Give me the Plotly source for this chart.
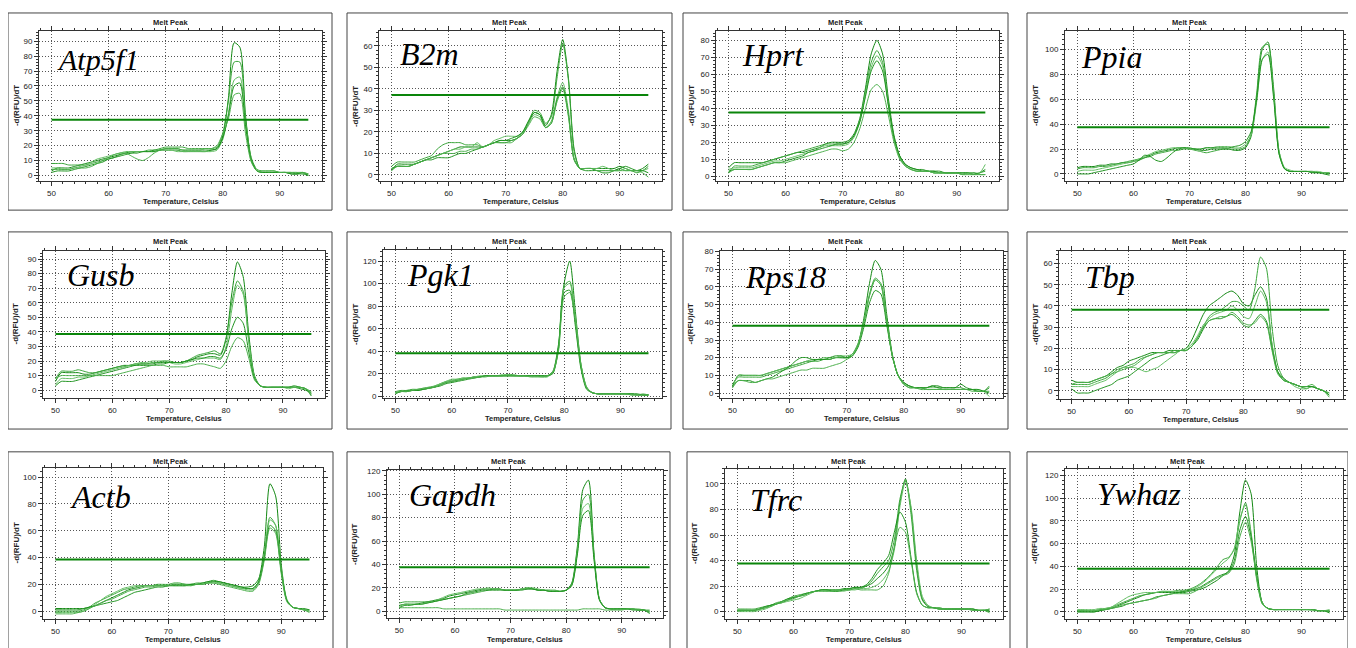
import plotly.graph_objects as go

# ---------------- data ----------------
TEMPS = list(range(50, 96))
GENES = ["Atp5f1", "B2m", "Hprt", "Ppia", "Gusb", "Pgk1", "Rps18", "Tbp",
         "Actb", "Gapdh", "Tfrc", "Ywhaz"]
THRESHOLDS = [37.4, 37.2, 37.5, 37.6, 38.5, 38.1, 38.1, 38.2, 38.5, 37.5, 37.7, 38.0]
X_TICKS = [50, 60, 70, 80, 90]

ATP5F1 = [
    [3,5,5,5,6,7,8,9,10,11, 12,13,14,15,16,16,16,16,17,17, 17,17,17,16,16,16,16,16,17,18, 26,52,89,86,40,11,3,2,2,2, 2,2,1,1,1,0],
    [8,8,8,7,7,7,7,8,9,10, 11,12,14,15,15,16,16,17,17,18, 19,19,19,19,18,18,18,18,18,19, 28,50,76,76,38,12,4,3,3,3, 2,2,2,1,2,1],
    [5,5,4,4,5,6,7,9,11,12, 13,14,15,16,16,16,16,16,16,17, 17,17,16,16,16,16,16,16,16,17, 24,42,64,66,34,10,3,2,2,2, 2,2,2,2,1,1],
    [2,3,3,3,4,5,6,7,8,9, 11,12,13,14,15,15,16,16,16,17, 18,18,18,17,17,17,17,17,17,18, 25,40,60,62,33,10,3,2,2,2, 2,2,1,1,2,0],
    [4,4,4,4,5,5,5,6,8,10, 12,14,15,15,13,11,10,12,15,17, 18,18,18,17,17,17,17,18,18,20, 28,38,54,55,28,9,3,3,3,3, 2,2,2,2,2,1],
]
B2M = [
    [2,5,5,5,5,6,7,8,9,10, 11,12,13,13,13,13,13,14,15,16, 16,16,17,19,24,29,28,23,28,48, 63,45,12,3,3,3,3,3,3,3, 4,3,2,2,3,5],
    [4,6,6,6,6,7,8,9,12,14, 15,15,15,14,14,14,13,14,15,15, 15,16,17,20,25,30,29,24,27,45, 61,44,11,3,3,3,2,2,2,2, 3,2,2,1,2,4],
    [3,4,4,4,5,6,7,8,9,10, 11,12,12,13,13,15,13,14,16,17, 18,18,18,20,24,28,27,22,25,36, 43,30,8,3,3,3,3,4,3,2, 2,3,2,2,2,3],
    [3,4,4,4,5,6,7,7,8,8, 8,9,10,10,11,12,13,14,15,16, 16,17,18,20,25,29,28,22,24,35, 41,28,7,3,2,2,2,1,1,2, 3,4,3,2,2,1],
    [2,4,4,4,5,6,7,8,9,10, 10,10,11,11,12,12,13,14,15,15, 15,15,17,19,23,27,26,22,24,34, 40,27,7,3,3,3,2,2,2,2, 2,2,2,2,1,-1],
]
HPRT = [
    [5,8,8,8,8,8,8,9,10,11, 12,13,14,14,15,16,17,19,20,20, 20,21,25,34,52,72,80,72,46,24, 12,7,5,4,3,3,3,2,2,2, 2,2,2,1,2,4],
    [2,6,6,6,6,7,8,9,10,11, 12,13,14,15,16,17,18,19,19,19, 19,20,24,33,50,67,74,67,43,22, 11,6,4,3,3,3,2,2,2,2, 2,1,1,1,2,3],
    [4,5,5,5,5,6,7,8,9,9, 10,11,12,13,14,15,17,18,18,18, 18,19,23,32,48,64,71,65,42,22, 11,6,4,3,3,3,2,2,2,2, 2,2,1,2,2,7],
    [3,4,4,4,4,5,6,7,8,8, 9,10,11,12,14,15,16,17,18,19, 19,20,24,32,47,62,68,62,42,23, 12,7,5,4,4,3,3,3,2,2, 2,2,2,2,1,1],
    [2,4,4,4,4,5,6,7,8,8, 8,9,10,11,12,13,14,15,16,16, 15,16,20,28,40,51,54,50,36,20, 10,6,4,3,3,3,2,2,2,2, 2,1,2,1,1,1],
]
PPIA = [
    [5,6,6,6,7,7,8,8,9,9, 10,11,13,15,17,18,19,20,21,21, 20,20,19,19,20,20,20,20,19,19, 21,30,62,100,106,70,18,4,2,2, 2,2,2,1,1,0],
    [4,5,5,5,6,6,7,8,9,10, 11,12,13,14,16,17,18,19,19,20, 20,19,18,17,18,19,20,20,20,20, 22,32,65,102,104,65,16,4,2,2, 2,2,1,1,1,1],
    [2,3,3,3,4,5,6,7,8,9, 10,12,14,16,18,19,20,21,21,21, 20,20,20,21,21,22,22,22,21,21, 24,31,58,92,98,66,18,5,3,2, 2,2,2,2,1,1],
    [0,0,0,1,2,3,4,5,6,7, 8,11,15,14,11,10,13,17,20,21, 21,20,20,21,21,21,21,21,22,23, 26,34,60,92,96,62,16,4,2,2, 2,2,1,1,0,-1],
]
GUSB = [
    [6,12,12,12,12,11,11,12,13,14, 15,16,17,17,18,18,18,18,19,19, 19,19,19,20,21,23,24,25,25,24, 35,66,88,78,38,10,3,2,2,2, 2,2,2,1,0,-2],
    [8,13,13,13,14,13,12,12,13,14, 15,16,16,17,17,18,18,19,19,20, 20,19,19,20,22,24,25,26,27,25, 36,60,75,68,34,9,3,2,2,2, 2,2,2,2,1,-1],
    [4,8,8,8,9,9,10,11,12,13, 14,15,16,17,18,19,19,20,20,20, 19,18,18,19,20,21,22,22,22,21, 30,55,72,66,33,9,3,2,2,2, 2,1,2,2,1,-3],
    [3,6,6,6,7,8,9,10,11,12, 13,14,15,16,17,17,17,17,18,18, 19,19,19,20,21,22,22,23,23,22, 28,42,50,46,26,8,3,2,2,2, 2,2,3,2,1,-4],
    [8,10,10,10,10,10,10,10,10,10, 10,11,12,13,14,15,16,17,17,17, 16,16,16,16,17,18,18,17,16,15, 20,30,36,34,22,7,3,2,2,2, 2,2,2,2,1,-2],
]
PGK1 = [
    [3,4,5,5,5,6,7,8,10,12, 13,14,15,16,17,17,18,18,18,18, 18,18,18,18,18,18,18,18,22,46, 100,120,75,28,8,3,2,2,2,2, 2,2,2,1,1,1],
    [4,5,5,6,6,7,8,9,11,13, 14,15,16,16,17,17,18,18,18,18, 19,19,18,18,18,18,18,18,21,44, 98,102,66,26,7,3,2,2,2,2, 2,2,1,1,1,1],
    [3,4,4,5,6,6,7,9,11,13, 15,15,16,16,17,18,18,18,18,19, 19,18,18,18,18,18,17,17,21,42, 96,100,70,28,8,3,2,2,2,2, 2,2,2,1,2,1],
    [2,4,4,5,5,6,7,8,9,11, 12,13,14,15,16,17,18,18,18,18, 18,18,18,18,18,18,18,18,20,42, 92,94,62,24,6,3,2,2,2,2, 2,2,2,2,1,1],
    [3,4,4,5,6,7,7,8,10,12, 13,14,15,16,16,17,17,18,18,18, 18,18,18,18,17,17,17,18,21,40, 88,92,66,27,7,3,2,2,2,2, 2,2,1,1,1,1],
]
RPS18 = [
    [4,10,10,10,10,10,11,12,13,14, 15,16,17,18,18,19,19,19,20,20, 20,22,28,42,62,75,70,45,22,10, 6,4,3,3,3,4,4,3,3,3, 5,3,2,1,1,3],
    [5,9,9,9,9,9,10,11,12,13, 14,15,16,17,18,18,19,19,20,20, 20,21,27,40,56,65,62,42,21,10, 5,3,3,3,2,2,2,2,2,2, 2,2,2,1,1,1],
    [3,10,10,10,10,10,11,12,13,14, 15,16,17,18,19,19,20,20,20,21, 21,22,28,40,55,64,61,41,21,10, 5,4,3,3,3,3,3,2,2,2, 2,2,2,2,1,-2],
    [4,7,7,7,6,7,8,9,11,13, 15,18,20,20,19,19,19,20,21,21, 20,21,26,37,51,58,56,39,21,10, 6,4,3,3,3,4,3,3,3,3, 3,2,2,2,1,0],
    [3,7,7,6,6,7,8,8,9,10, 11,12,13,13,14,14,14,15,16,17, 19,21,27,40,55,64,61,41,21,10, 5,3,3,2,2,2,2,2,2,2, 2,2,1,1,1,4],
]
TBP = [
    [5,4,4,4,5,6,7,9,11,12, 14,15,16,17,18,18,18,19,19,19, 20,24,30,36,40,42,44,46,47,45, 41,40,45,49,44,22,9,6,4,3, 2,2,2,1,0,-1],
    [3,3,3,3,4,5,6,8,10,11, 12,13,15,16,17,18,18,18,19,19, 19,21,25,30,35,37,38,40,42,42, 40,38,48,63,58,30,12,6,4,3, 2,1,2,1,0,-2],
    [2,2,2,2,3,4,5,7,9,11, 11,11,10,9,10,11,13,15,17,19, 20,22,26,31,34,36,37,38,40,38, 35,34,40,47,42,22,9,5,4,2, 1,1,2,1,0,-1],
    [1,-1,-1,-1,0,1,2,3,5,6, 7,9,11,13,15,16,17,18,18,19, 19,21,24,29,33,34,34,35,36,34, 31,30,33,36,33,20,9,5,4,3, 2,2,2,1,0,-2],
    [3,4,4,4,5,6,7,8,9,10, 11,12,14,16,17,18,18,18,18,19, 19,21,25,30,33,34,35,35,37,35, 32,31,32,35,32,19,8,5,4,3, 2,2,3,1,0,-3],
]
ACTB = [
    [2,2,2,2,2,2,3,4,6,8, 10,12,14,16,17,18,19,19,19,19, 19,20,20,20,20,20,20,21,22,22, 21,20,19,18,18,19,24,48,95,86, 35,8,3,2,1,0],
    [0,0,0,0,0,1,3,6,8,10, 12,14,16,17,18,19,19,19,20,20, 20,21,21,20,20,21,21,22,22,21, 20,19,18,17,17,17,22,42,70,64, 30,8,3,2,1,1],
    [-1,-1,-1,-1,-1,0,2,5,8,11, 13,15,17,18,19,19,19,19,19,19, 19,19,19,19,19,20,20,21,21,21, 20,19,18,17,16,16,21,40,68,64, 32,9,3,2,1,0],
    [1,1,1,1,1,2,3,4,5,6, 7,8,10,12,14,15,16,17,18,18, 19,19,19,19,20,20,21,22,23,22, 21,20,19,18,17,17,22,40,64,60, 30,8,3,2,2,1],
    [-2,-2,-2,-2,-1,0,2,4,6,8, 9,11,13,15,16,17,18,18,19,19, 19,20,20,20,19,20,20,21,21,20, 19,18,17,16,15,15,20,38,62,58, 28,7,3,2,1,-1],
]
GAPDH = [
    [5,6,6,6,7,8,9,10,11,13, 14,15,16,17,18,19,19,19,19,18, 18,18,19,19,19,18,18,17,17,17, 18,24,55,104,112,50,10,3,2,2, 2,2,2,1,1,0],
    [7,8,8,8,8,8,8,9,10,11, 12,13,14,15,16,17,18,19,19,18, 18,18,19,20,19,18,18,18,18,17, 18,23,52,95,100,48,10,3,2,2, 2,2,2,1,1,-1],
    [4,6,6,6,6,7,8,10,12,14, 15,16,17,18,19,19,20,19,19,18, 18,18,19,20,20,19,18,18,17,17, 18,22,50,88,92,46,10,3,2,2, 2,2,2,2,1,0],
    [3,5,5,6,6,7,8,9,10,11, 12,13,15,16,17,18,18,18,18,18, 18,18,18,19,19,18,18,17,17,17, 18,22,48,82,86,44,9,3,2,2, 2,2,1,1,1,-2],
    [3,3,3,3,3,3,3,3,2,2, 2,2,2,2,2,2,2,2,2,1, 1,1,1,1,1,1,1,1,1,1, 1,1,1,2,2,2,2,1,1,1, 1,2,2,1,1,1],
]
TFRC = [
    [1,1,1,1,2,3,5,6,7,9, 11,12,13,15,16,17,17,17,17,18, 18,19,19,20,22,26,30,36,50,85, 104,80,36,10,4,3,3,2,2,2, 2,2,2,1,1,1],
    [2,2,2,2,3,4,5,7,8,10, 12,13,14,15,16,17,17,17,17,17, 17,18,18,20,24,30,35,40,56,88, 103,76,32,9,4,3,2,2,2,2, 2,2,1,1,1,2],
    [0,0,0,0,1,2,4,6,7,8, 9,10,12,14,16,16,16,16,16,16, 17,17,18,18,19,21,25,32,48,82, 102,82,40,12,5,3,3,2,2,2, 2,2,2,1,1,-1],
    [1,1,1,1,2,4,5,6,8,10, 11,12,14,15,16,17,17,16,16,17, 18,19,19,21,26,33,38,44,62,78, 70,42,15,5,3,3,2,2,2,2, 2,2,2,1,1,0],
    [1,1,1,1,2,3,4,6,8,9, 10,12,13,15,16,16,16,16,17,17, 17,18,17,17,17,17,20,30,50,66, 62,40,14,5,3,3,2,2,2,2, 2,2,1,1,1,2],
]
YWHAZ = [
    [0,0,0,0,1,2,3,5,7,9, 11,13,15,16,17,17,17,17,17,17, 18,19,20,22,25,28,32,36,50,88, 116,104,40,8,3,2,2,2,2,2, 2,2,2,1,1,1],
    [1,1,1,1,2,3,4,6,8,10, 12,14,15,16,17,18,18,18,19,19, 20,22,25,29,34,40,46,48,55,80, 96,70,30,7,3,2,2,2,2,2, 2,2,2,1,1,0],
    [2,2,2,2,3,3,4,7,10,13, 15,16,17,17,17,18,18,18,18,18, 19,21,24,28,33,38,43,47,56,82, 94,68,28,7,3,2,2,2,2,2, 2,2,1,1,1,2],
    [0,0,0,0,1,2,3,4,5,7, 8,9,10,11,13,14,15,16,17,18, 19,20,22,25,28,31,33,35,45,72, 84,66,32,8,3,2,2,2,2,2, 2,2,2,1,1,-1],
    [1,1,1,1,2,2,3,4,6,7, 8,9,10,11,12,14,15,16,16,16, 16,18,21,24,27,30,32,34,42,66, 79,62,30,8,3,2,2,2,2,2, 2,2,2,1,1,1],
]
CURVES = [ATP5F1, B2M, HPRT, PPIA, GUSB, PGK1, RPS18, TBP, ACTB, GAPDH, TFRC, YWHAZ]

# ---------------- layout (page pixels) ----------------
PAGE_W, PAGE_H = 1356, 648
OFF = 8                      # browser default body margin
W, H = PAGE_W - OFF, PAGE_H - OFF


def px(x):
    return (x - OFF) / W


def py(y):
    return 1 - (y - OFF) / H


PLOT_AREAS = [  # left, top, right, bottom
    (39, 28, 322, 180), (379, 28, 662, 180), (716, 28, 999, 180), (1065, 28, 1343, 180),
    (43, 250, 325, 399), (383, 249, 662, 399), (720, 250, 1003, 399), (1059, 250, 1343, 400),
    (43, 469, 323, 622), (387, 471, 663, 621), (725, 470, 1003, 622), (1065, 470, 1343, 622)]
FRAMES = [
    (8, 10, 332, 209), (347, 10, 672, 209), (683, 10, 1008, 209), (1027, 10, 1352, 209),
    (8, 231, 332, 430), (347, 231, 671, 430), (683, 231, 1008, 430), (1027, 231, 1352, 430),
    (8, 453, 333, 680), (347, 453, 670, 680), (687, 453, 1010, 680), (1027, 453, 1348, 680)]
Y_RANGES = [(-4, 97), (-3, 67), (-3, 85.6), (-6, 115), (-5.6, 95.7), (-2, 130),
            (-3, 80.5), (-4, 66), (-6, 107), (-6, 121), (-6, 112), (-6.5, 126)]
Y_DTICKS = [10, 10, 10, 20, 10, 20, 10, 10, 20, 20, 20, 20]
NAME_POS = [(55, 68), (398, 62), (740, 63), (1079, 65), (65, 285), (405, 285),
            (743, 288), (1083, 288), (68, 510), (407, 508), (748, 513), (1095, 507)]
NAME_SIZES = [30, 32, 32, 32, 32, 32, 32, 32, 32, 32, 32, 32]
X_RANGE = [47.8, 97.4]
PALETTE = ["#138813", "#3aa53a", "#62bd62", "#1f931f", "#4caf4c", "#2d9c2d"]
SANS = "Liberation Sans, Arial, sans-serif"

fig = go.Figure()
lay = {}
annotations = []
shapes = []

for i, gene in enumerate(GENES):
    sfx = "" if i == 0 else str(i + 1)
    l, t, r, b = PLOT_AREAS[i]
    axis_common = dict(
        showline=True, linecolor="#333", linewidth=1, mirror="ticks",
        ticks="outside", ticklen=4, tickcolor="#333", tickwidth=1,
        showgrid=True, gridcolor="#555", gridwidth=1, griddash="1px,2px",
        zeroline=False, tickfont=dict(family=SANS, size=8, color="#222"),
    )
    lay["xaxis" + sfx] = dict(
        axis_common, domain=[px(l), px(r)], range=X_RANGE, anchor="y" + sfx,
        tickvals=X_TICKS, ticktext=[str(v) for v in X_TICKS],
        minor=dict(dtick=2, tick0=50, ticks="outside", ticklen=2, tickcolor="#333", showgrid=False),
    )
    dt = Y_DTICKS[i]
    lay["yaxis" + sfx] = dict(
        axis_common, domain=[py(b), py(t)], range=list(Y_RANGES[i]), anchor="x" + sfx,
        tick0=0, dtick=dt,
        minor=dict(dtick=dt / 5, tick0=0, ticks="outside", ticklen=2, tickcolor="#333", showgrid=False),
    )
    for j, curve in enumerate(CURVES[i]):
        fig.add_trace(go.Scatter(
            x=TEMPS, y=curve, mode="lines", xaxis="x" + sfx, yaxis="y" + sfx,
            line=dict(color=PALETTE[j % len(PALETTE)], width=1, shape="spline", smoothing=0.7),
            showlegend=False, hoverinfo="skip"))
    fig.add_trace(go.Scatter(
        x=[TEMPS[0], TEMPS[-1]], y=[THRESHOLDS[i], THRESHOLDS[i]], mode="lines",
        xaxis="x" + sfx, yaxis="y" + sfx, line=dict(color="#0a850a", width=2),
        showlegend=False, hoverinfo="skip"))

    fl, ft, fr, fb = FRAMES[i]
    shapes.append(dict(type="rect", xref="paper", yref="paper",
                       x0=px(fl), x1=px(fr), y0=py(fb), y1=py(ft),
                       line=dict(color="#444", width=1), layer="below"))
    annotations.append(dict(text="<b>Melt Peak</b>", xref="paper", yref="paper",
                            x=px((fl + fr) / 2), y=py(ft + 10), xanchor="center", yanchor="middle",
                            showarrow=False, font=dict(family=SANS, size=7.5, color="#222")))
    if b + 20 > 638:
        xt_y, xt_anchor = py(PAGE_H), "bottom"
    else:
        xt_y, xt_anchor = py(b + 20), "middle"
    annotations.append(dict(text="<b>Temperature, Celsius</b>", xref="paper", yref="paper",
                            x=px((l + r) / 2), y=xt_y, xanchor="center", yanchor=xt_anchor,
                            borderpad=0,
                            showarrow=False, font=dict(family=SANS, size=7.5, color="#222")))
    annotations.append(dict(text="<b>-d(RFU)/dT</b>", xref="paper", yref="paper", textangle=-90,
                            x=px(fl + 8), y=py((t + b) / 2), xanchor="center", yanchor="middle",
                            showarrow=False, font=dict(family=SANS, size=8, color="#222")))
    nx, ny = NAME_POS[i]
    annotations.append(dict(text="<i>" + gene + "</i>", xref="paper", yref="paper",
                            x=px(nx), y=py(ny - 11), xanchor="left", yanchor="middle",
                            showarrow=False, font=dict(family="Liberation Serif, Times New Roman, serif",
                                                       size=NAME_SIZES[i], color="#000")))

fig.update_layout(
    width=W, height=H, autosize=False, margin=dict(l=0, r=0, t=0, b=0, pad=0),
    paper_bgcolor="white", plot_bgcolor="white",
    annotations=annotations, shapes=shapes, **lay)

fig.write_html("out.html")
